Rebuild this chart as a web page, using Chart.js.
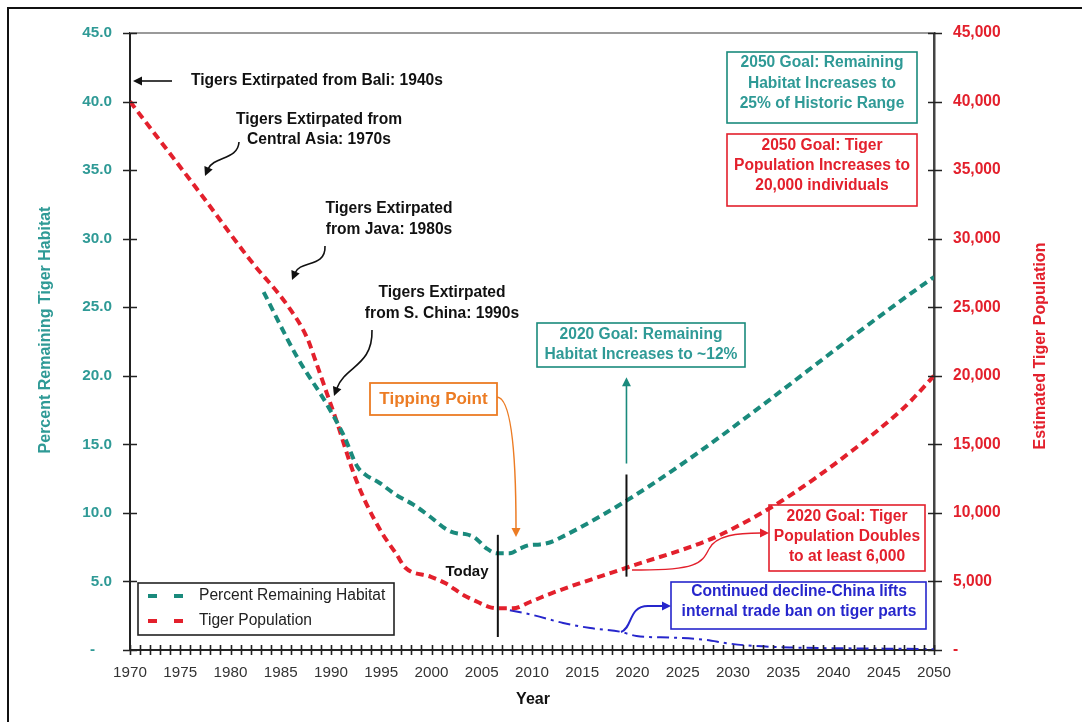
<!DOCTYPE html>
<html>
<head>
<meta charset="utf-8">
<script src="https://cdn.jsdelivr.net/npm/chart.js@4.4.1/dist/chart.umd.min.js"></script>
<style>
  html, body { margin: 0; padding: 0; background: #fff; }
  #wrap { width: 1082px; height: 722px; }
</style>
</head>
<body>
<div id="wrap"><canvas id="c" width="1082" height="722"></canvas></div>
<script>
// Percent of historic range still holding tigers
const habitatYears = [1983.3, 1986.6, 1989.6, 1991.3, 1992.6, 1993.4, 1994.8, 1996.5, 1998.2, 1999.9, 2001.6, 2002.6, 2003.4, 2004.3, 2005.5, 2006.5, 2007.8, 2008.8, 2009.8, 2010.8, 2012.3, 2050];
const habitatPct   = [26.1, 21.4, 17.9, 15.6, 13.4, 12.8, 12.2, 11.3, 10.6, 9.7, 8.75, 8.5, 8.45, 8.2, 7.4, 7.05, 7.05, 7.4, 7.66, 7.7, 8.0, 27.2];

// Estimated wild tiger population
const popYears = [1970, 1977, 1982, 1985.6, 1987.6, 1988.6, 1989.6, 1990.6, 1991.6, 1992.4, 1993.5, 1995.1, 1996.5, 1997.4, 1999.9, 2001.4, 2003.2, 2004.6, 2005.7, 2006.6, 2008.1, 2009.8, 2011.8, 2019.4, 2027.5, 2030.1, 2034.9, 2041.8, 2046.9, 2048, 2050];
const popCount = [40000, 33300, 28400, 25200, 22800, 20800, 18700, 16600, 14300, 12600, 10700, 8500, 7000, 6000, 5350, 4860, 4000, 3500, 3150, 3040, 3040, 3500, 4100, 6000, 8000, 8900, 10900, 14500, 17600, 18400, 20000];

// Alternative path: continued decline after the trade ban is lifted
const declineYears = [2007.8, 2010.1, 2013.1, 2015.8, 2018.8, 2020.4, 2024, 2027.4, 2029.4, 2032, 2036, 2040, 2045, 2050];
const declineCount = [2900, 2550, 1970, 1600, 1330, 1020, 900, 730, 490, 300, 180, 130, 100, 60];

// Axis ticks
const yearTicks = [1970, 1975, 1980, 1985, 1990, 1995, 2000, 2005, 2010, 2015, 2020, 2025, 2030, 2035, 2040, 2045, 2050];
const pctTicks = [0, 5, 10, 15, 20, 25, 30, 35, 40, 45];
const popTicks = [0, 5000, 10000, 15000, 20000, 25000, 30000, 35000, 40000, 45000];

// Reference years for the marker lines
const todayYear = 2006.6;
const goalYear = 2019.4;

const TEAL_LINE = '#1a8a7c';
const TEAL_TEXT = '#2f9a96';
const RED = '#e3202c';
const BLUE = '#2626cc';
const ORANGE = '#ec7c24';
const FONT = '"Liberation Sans", Arial, sans-serif';
const BOLD = 'bold 15.6px ' + FONT;

const pts = (xs, ys) => xs.map((x, i) => ({ x, y: ys[i] }));

function arrowHead(ctx, x, y, ang, color, len = 9, half = 4.5) {
  ctx.save();
  ctx.translate(x, y);
  ctx.rotate(ang);
  ctx.fillStyle = color;
  ctx.beginPath();
  ctx.moveTo(0, 0);
  ctx.lineTo(-len, -half);
  ctx.lineTo(-len, half);
  ctx.closePath();
  ctx.fill();
  ctx.restore();
}

function lines(ctx, arr, cx, y0, step, font, color) {
  ctx.font = font;
  ctx.fillStyle = color;
  ctx.textAlign = 'center';
  ctx.textBaseline = 'middle';
  arr.forEach((t, i) => ctx.fillText(t, cx, y0 + i * step));
}

function box(ctx, x1, y1, x2, y2, color, w = 1.6) {
  ctx.strokeStyle = color;
  ctx.lineWidth = w;
  ctx.strokeRect(x1, y1, x2 - x1, y2 - y1);
}

const overlay = {
  id: 'overlay',
  beforeDraw(chart) {
    const ctx = chart.ctx;
    ctx.save();
    ctx.fillStyle = '#fff';
    ctx.fillRect(0, 0, chart.width, chart.height);
    ctx.restore();
  },
  afterDraw(chart) {
    const { ctx, chartArea: a, scales } = chart;
    const sx = scales.x, sy = scales.y, sy1 = scales.y1;
    ctx.save();

    // outer frame (left and top edges)
    ctx.strokeStyle = '#111';
    ctx.lineWidth = 2;
    ctx.beginPath();
    ctx.moveTo(8, chart.height);
    ctx.lineTo(8, 8);
    ctx.lineTo(chart.width, 8);
    ctx.stroke();

    // top edge of plot area
    ctx.strokeStyle = '#9a9a9a';
    ctx.lineWidth = 2;
    ctx.beginPath();
    ctx.moveTo(a.left, a.top);
    ctx.lineTo(a.right, a.top);
    ctx.stroke();

    // cross tick marks
    ctx.strokeStyle = '#222';
    ctx.lineWidth = 1.6;
    ctx.beginPath();
    pctTicks.forEach(v => {
      const y = Math.round(sy.getPixelForValue(v)) + 0.5;
      ctx.moveTo(a.left - 7, y); ctx.lineTo(a.left + 7, y);
    });
    popTicks.forEach(v => {
      const y = Math.round(sy1.getPixelForValue(v)) + 0.5;
      ctx.moveTo(a.right - 6, y); ctx.lineTo(a.right + 8, y);
    });
    for (let yr = 1970; yr <= 2050; yr++) {
      const x = Math.round(sx.getPixelForValue(yr)) + 0.5;
      ctx.moveTo(x, a.bottom - 5); ctx.lineTo(x, a.bottom + 5);
    }
    ctx.stroke();

    // axis titles
    ctx.font = 'bold 16px ' + FONT;
    ctx.textAlign = 'center';
    ctx.textBaseline = 'middle';
    ctx.fillStyle = '#111';
    ctx.fillText('Year', 533, 700);
    ctx.save();
    ctx.translate(46, 330);
    ctx.rotate(-Math.PI / 2);
    ctx.fillStyle = TEAL_TEXT;
    ctx.fillText('Percent Remaining Tiger Habitat', 0, 0);
    ctx.restore();
    ctx.save();
    ctx.translate(1041, 346);
    ctx.rotate(-Math.PI / 2);
    ctx.fillStyle = RED;
    ctx.fillText('Estimated Tiger Population', 0, 0);
    ctx.restore();

    // historic extirpation notes
    ctx.font = BOLD;
    ctx.fillStyle = '#111';
    ctx.textAlign = 'left';
    ctx.fillText('Tigers Extirpated from Bali: 1940s', 191, 81);
    lines(ctx, ['Tigers Extirpated from', 'Central Asia: 1970s'], 319, 120, 20, BOLD, '#111');
    lines(ctx, ['Tigers Extirpated', 'from Java: 1980s'], 389, 209, 21, BOLD, '#111');
    lines(ctx, ['Tigers Extirpated', 'from S. China: 1990s'], 442, 293, 21, BOLD, '#111');

    ctx.strokeStyle = '#111';
    ctx.lineWidth = 1.6;
    ctx.beginPath();
    ctx.moveTo(172, 81); ctx.lineTo(140, 81);
    ctx.stroke();
    arrowHead(ctx, 133, 81, Math.PI, '#111');

    ctx.beginPath();
    ctx.moveTo(239, 142);
    ctx.bezierCurveTo(238, 160, 214, 156, 208, 169);
    ctx.stroke();
    arrowHead(ctx, 205, 176, Math.atan2(7, -3), '#111');

    ctx.beginPath();
    ctx.moveTo(325, 246);
    ctx.bezierCurveTo(326, 268, 300, 260, 295, 273);
    ctx.stroke();
    arrowHead(ctx, 292, 280, Math.atan2(7, -3), '#111');

    ctx.beginPath();
    ctx.moveTo(372, 330);
    ctx.bezierCurveTo(373, 366, 345, 366, 337, 388);
    ctx.stroke();
    arrowHead(ctx, 334, 396, Math.atan2(8, -3), '#111');

    // Tipping Point
    box(ctx, 370, 383, 497, 415, ORANGE, 1.8);
    lines(ctx, ['Tipping Point'], 433.5, 399, 0, 'bold 17px ' + FONT, ORANGE);
    ctx.strokeStyle = ORANGE;
    ctx.lineWidth = 1.5;
    ctx.beginPath();
    ctx.moveTo(497, 397);
    ctx.bezierCurveTo(513, 398, 516, 470, 516, 528);
    ctx.stroke();
    arrowHead(ctx, 516, 537, Math.PI / 2, ORANGE);

    // Today marker
    const xT = sx.getPixelForValue(todayYear);
    ctx.strokeStyle = '#111';
    ctx.lineWidth = 2;
    ctx.beginPath();
    ctx.moveTo(xT, sy.getPixelForValue(8.4));
    ctx.lineTo(xT, sy.getPixelForValue(0.95));
    ctx.stroke();
    lines(ctx, ['Today'], 467, 572, 0, 'bold 15px ' + FONT, '#111');

    // 2020 marker and goals
    const xG = sx.getPixelForValue(goalYear);
    ctx.beginPath();
    ctx.moveTo(xG, sy.getPixelForValue(12.8));
    ctx.lineTo(xG, sy.getPixelForValue(5.35));
    ctx.stroke();

    ctx.strokeStyle = TEAL_LINE;
    ctx.lineWidth = 1.6;
    ctx.beginPath();
    ctx.moveTo(xG, sy.getPixelForValue(13.6));
    ctx.lineTo(xG, sy.getPixelForValue(19.4));
    ctx.stroke();
    arrowHead(ctx, xG, sy.getPixelForValue(19.9), -Math.PI / 2, TEAL_LINE);

    box(ctx, 537, 323, 745, 367, TEAL_LINE);
    lines(ctx, ['2020 Goal: Remaining', 'Habitat Increases to ~12%'], 641, 335, 20, BOLD, TEAL_TEXT);

    box(ctx, 727, 52, 917, 123, TEAL_LINE);
    lines(ctx, ['2050 Goal: Remaining', 'Habitat Increases to', '25% of Historic Range'], 822, 63, 20.5, BOLD, TEAL_TEXT);

    box(ctx, 727, 134, 917, 206, RED);
    lines(ctx, ['2050 Goal: Tiger', 'Population Increases to', '20,000 individuals'], 822, 146, 20, BOLD, RED);

    box(ctx, 769, 505, 925, 571, RED);
    lines(ctx, ['2020 Goal: Tiger', 'Population Doubles', 'to at least 6,000'], 847, 517, 20, BOLD, RED);
    ctx.strokeStyle = RED;
    ctx.lineWidth = 1.4;
    ctx.beginPath();
    ctx.moveTo(632, 570);
    ctx.bezierCurveTo(700, 571, 702, 562, 709, 549);
    ctx.bezierCurveTo(716, 535, 738, 533, 761, 533);
    ctx.stroke();
    arrowHead(ctx, 769, 533, 0, RED);

    box(ctx, 671, 582, 926, 629, BLUE);
    lines(ctx, ['Continued decline-China lifts', 'internal trade ban on tiger parts'], 799, 592, 20, BOLD, BLUE);
    ctx.strokeStyle = BLUE;
    ctx.lineWidth = 2;
    ctx.beginPath();
    ctx.moveTo(621, 632);
    ctx.bezierCurveTo(633, 628, 628, 606, 648, 606);
    ctx.lineTo(663, 606);
    ctx.stroke();
    arrowHead(ctx, 671, 606, 0, BLUE);

    // legend
    box(ctx, 138, 583, 394, 635, '#222', 1.6);
    ctx.lineWidth = 4;
    [[TEAL_LINE, 596, 'Percent Remaining Habitat'], [RED, 621, 'Tiger Population']].forEach(([c, y, t]) => {
      ctx.strokeStyle = c;
      ctx.beginPath();
      ctx.moveTo(148, y); ctx.lineTo(157, y);
      ctx.moveTo(174, y); ctx.lineTo(183, y);
      ctx.stroke();
      ctx.font = '15.6px ' + FONT;
      ctx.fillStyle = '#222';
      ctx.textAlign = 'left';
      ctx.textBaseline = 'middle';
      ctx.fillText(t, 199, y);
    });

    ctx.restore();
  }
};

new Chart(document.getElementById('c'), {
  type: 'line',
  data: {
    datasets: [
      {
        label: 'Percent Remaining Habitat',
        data: pts(habitatYears, habitatPct),
        yAxisID: 'y',
        borderColor: TEAL_LINE,
        borderWidth: 4,
        borderDash: [8, 5],
        borderCapStyle: 'butt',
        pointRadius: 0,
        cubicInterpolationMode: 'monotone',
        fill: false
      },
      {
        label: 'Tiger Population',
        data: pts(popYears, popCount),
        yAxisID: 'y1',
        borderColor: RED,
        borderWidth: 4,
        borderDash: [8, 5],
        borderCapStyle: 'butt',
        pointRadius: 0,
        cubicInterpolationMode: 'monotone',
        fill: false
      },
      {
        label: 'Continued decline',
        data: pts(declineYears, declineCount),
        yAxisID: 'y1',
        borderColor: BLUE,
        borderWidth: 2,
        borderDash: [12, 5, 3, 5],
        pointRadius: 0,
        cubicInterpolationMode: 'monotone',
        fill: false
      }
    ]
  },
  options: {
    responsive: false,
    animation: false,
    events: [],
    layout: { padding: { top: 33, left: 0, right: 0, bottom: 0 } },
    plugins: { legend: { display: false }, tooltip: { enabled: false }, title: { display: false } },
    scales: {
      x: {
        type: 'linear',
        min: 1970, max: 2050,
        afterFit(s) { s.height = 72; },
        afterBuildTicks(s) { s.ticks = yearTicks.map(v => ({ value: v })); },
        ticks: {
          padding: 14, maxRotation: 0, autoSkip: false,
          color: '#333', font: { family: FONT, size: 15.2 },
          callback: v => String(v)
        },
        grid: { display: true, drawOnChartArea: false, drawTicks: false },
        border: { display: true, color: '#222', width: 2 }
      },
      y: {
        position: 'left',
        min: 0, max: 45,
        afterFit(s) { s.width = 130; },
        afterBuildTicks(s) { s.ticks = pctTicks.map(v => ({ value: v })); },
        ticks: {
          padding: 18, color: TEAL_TEXT, font: { family: FONT, size: 15.3, weight: 'bold' },
          callback: v => v === 0 ? '-    ' : v.toFixed(1)
        },
        grid: { display: true, drawOnChartArea: false, drawTicks: false },
        border: { display: true, color: '#222', width: 2 }
      },
      y1: {
        position: 'right',
        min: 0, max: 45000,
        afterFit(s) { s.width = 148; },
        afterBuildTicks(s) { s.ticks = popTicks.map(v => ({ value: v })); },
        ticks: {
          padding: 19, color: RED, font: { family: FONT, size: 15.6, weight: 'bold' },
          callback: v => v === 0 ? '-' : v.toLocaleString('en-US')
        },
        grid: { display: true, drawOnChartArea: false, drawTicks: false },
        border: { display: true, color: '#444', width: 2.5 }
      }
    }
  },
  plugins: [overlay]
});
</script>
</body>
</html>
